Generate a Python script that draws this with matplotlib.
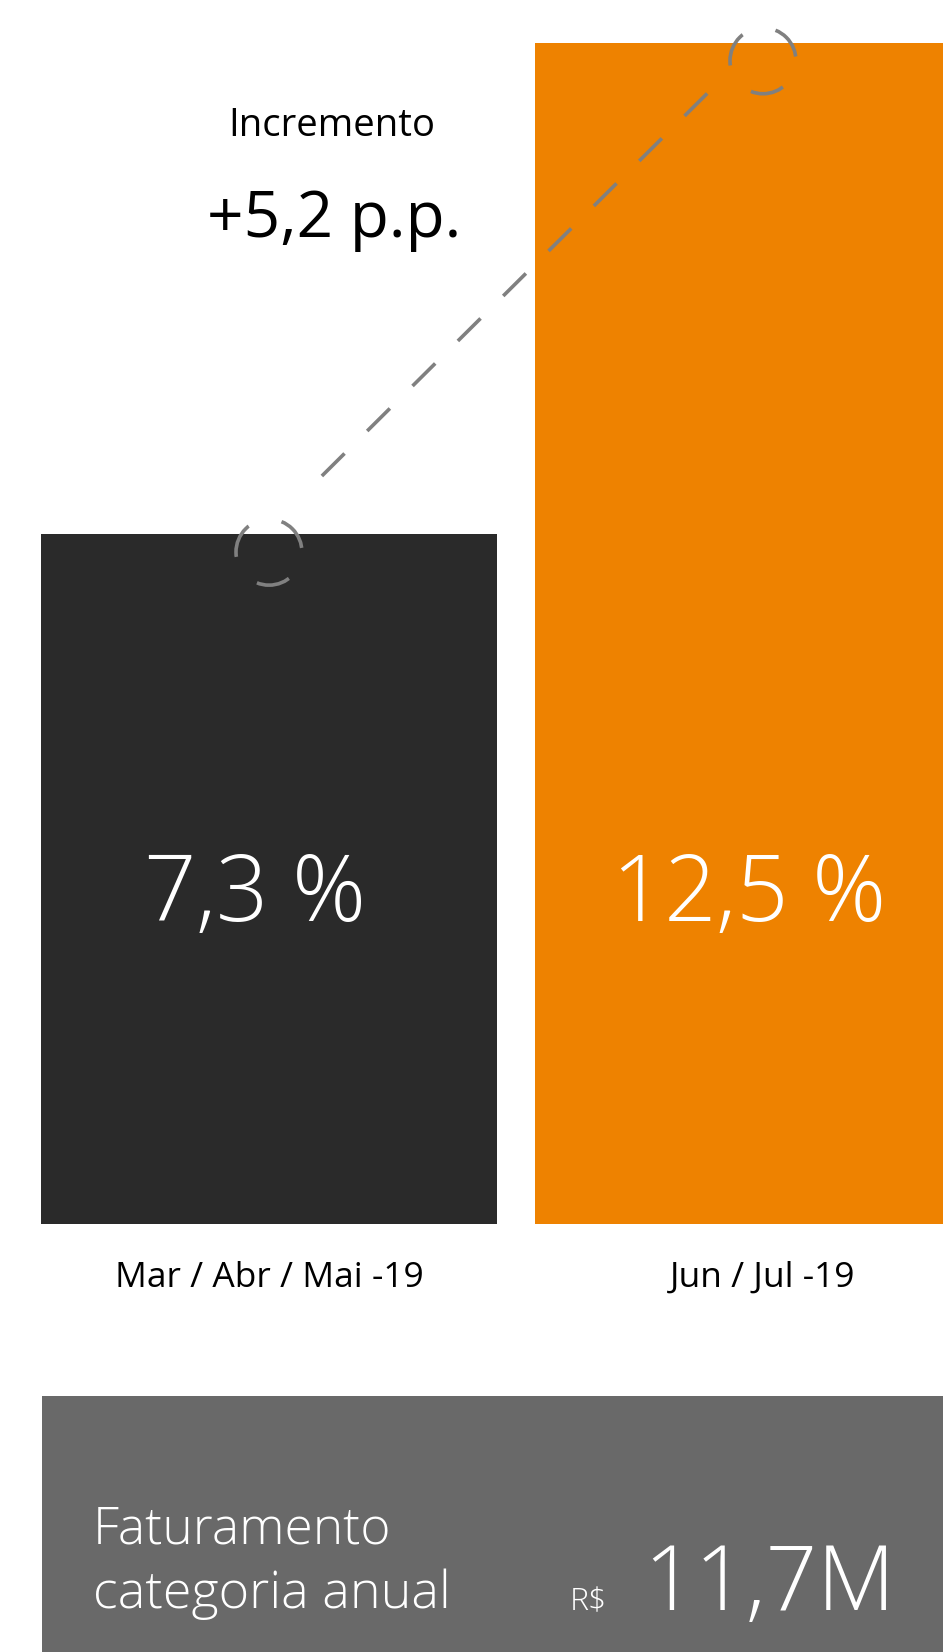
"""Incremento de participação: barras Mar/Abr/Mai vs Jun/Jul com painel de faturamento."""

import matplotlib

matplotlib.use("Agg")
import matplotlib.pyplot as plt
from matplotlib.patches import Ellipse, Rectangle
from matplotlib.transforms import blended_transform_factory

# data
periods = ["Mar / Abr / Mai -19", "Jun / Jul -19"]
share = [7.3, 12.5]
share_labels = ["7,3 %", "12,5 %"]
delta_label = "+5,2 p.p."
revenue_title = ["Faturamento", "categoria anual"]
revenue_value = "11,7M"
revenue_prefix = "R$"

BAR_COLORS = ["#2a2a2a", "#ee8200"]
DASH_GRAY = "#808080"
PANEL_GRAY = "#696969"

W, H = 943, 1652
plt.rcParams["font.family"] = ["Open Sans", "DejaVu Sans"]
plt.rcParams["lines.scale_dashes"] = False
LIGHT = dict(family=["Open Sans", "DejaVu Sans"], fontweight="light")


def fy(py):
    return 1 - py / H


def fx(px):
    return px / W


fig = plt.figure(figsize=(W / 100, H / 100), dpi=100, facecolor="white")
ax = fig.add_axes([0, 0, 1, 1])
ax.axis("off")

# 494 px between bar centres, 94.5 px per percentage point, baseline at 1224 px
ax.set_xlim(-269 / 494, (W - 269) / 494)
ax.set_ylim(-(H - 1224) / 94.5, 1224 / 94.5)

xs = list(range(len(share)))
ax.bar(xs, share, width=0.925, color=BAR_COLORS, zorder=1)

# dashed connector between the two bar tops
t0, t1 = 0.107, 0.887
x0, x1 = xs[0], xs[1]
y0, y1 = share[0] + 0.06, share[1] + 0.05
ax.plot(
    [x0 + t0 * (x1 - x0), x0 + t1 * (x1 - x0)],
    [y0 + t0 * (y1 - y0), y0 + t1 * (y1 - y0)],
    color=DASH_GRAY, lw=2.6, linestyle=(0, (23, 23)), solid_capstyle="butt", zorder=3,
)

# dashed rings at each value (path starts at the bottom, runs counter-clockwise)
r_px = 33
for x, v in zip(xs, share):
    ring = Ellipse(
        (x, v - 18 / 94.5), 2 * r_px / 494, 2 * r_px / 94.5,
        fill=False, edgecolor=DASH_GRAY, lw=2.6, linestyle=(9.6, (25, 25)), zorder=3,
    )
    ax.add_patch(ring)

tr = blended_transform_factory(ax.transData, fig.transFigure)
for x, lab in zip(xs, share_labels):
    ax.text(x - 14 / 494, fy(921), lab, transform=tr, ha="center", va="baseline",
            fontsize=66, color="white", **LIGHT)
for x, lab in zip(xs, periods):
    ax.text(x, fy(1287), lab, transform=tr, ha="center", va="baseline",
            fontsize=25.5, color="black")

fig.text(fx(332), fy(136), "Incremento", ha="center", va="baseline", fontsize=27.5, color="black")
fig.text(fx(334), fy(237), delta_label, ha="center", va="baseline", fontsize=46, color="black")

# revenue panel
fig.patches.append(Rectangle((fx(42), 0), 1 - fx(42), fy(1396), transform=fig.transFigure,
                             facecolor=PANEL_GRAY, edgecolor="none", zorder=0))
fig.text(fx(93), fy(1544), revenue_title[0], ha="left", va="baseline",
         fontsize=37, color="white", **LIGHT)
fig.text(fx(93), fy(1608), revenue_title[1], ha="left", va="baseline",
         fontsize=37.5, color="white", **LIGHT)
fig.text(fx(570), fy(1610), revenue_prefix, ha="left", va="baseline",
         fontsize=23, color="white", **LIGHT)
fig.text(fx(643), fy(1610), revenue_value, ha="left", va="baseline",
         fontsize=65, color="white", **LIGHT)

fig.savefig("out.png", dpi=100, facecolor="white")
